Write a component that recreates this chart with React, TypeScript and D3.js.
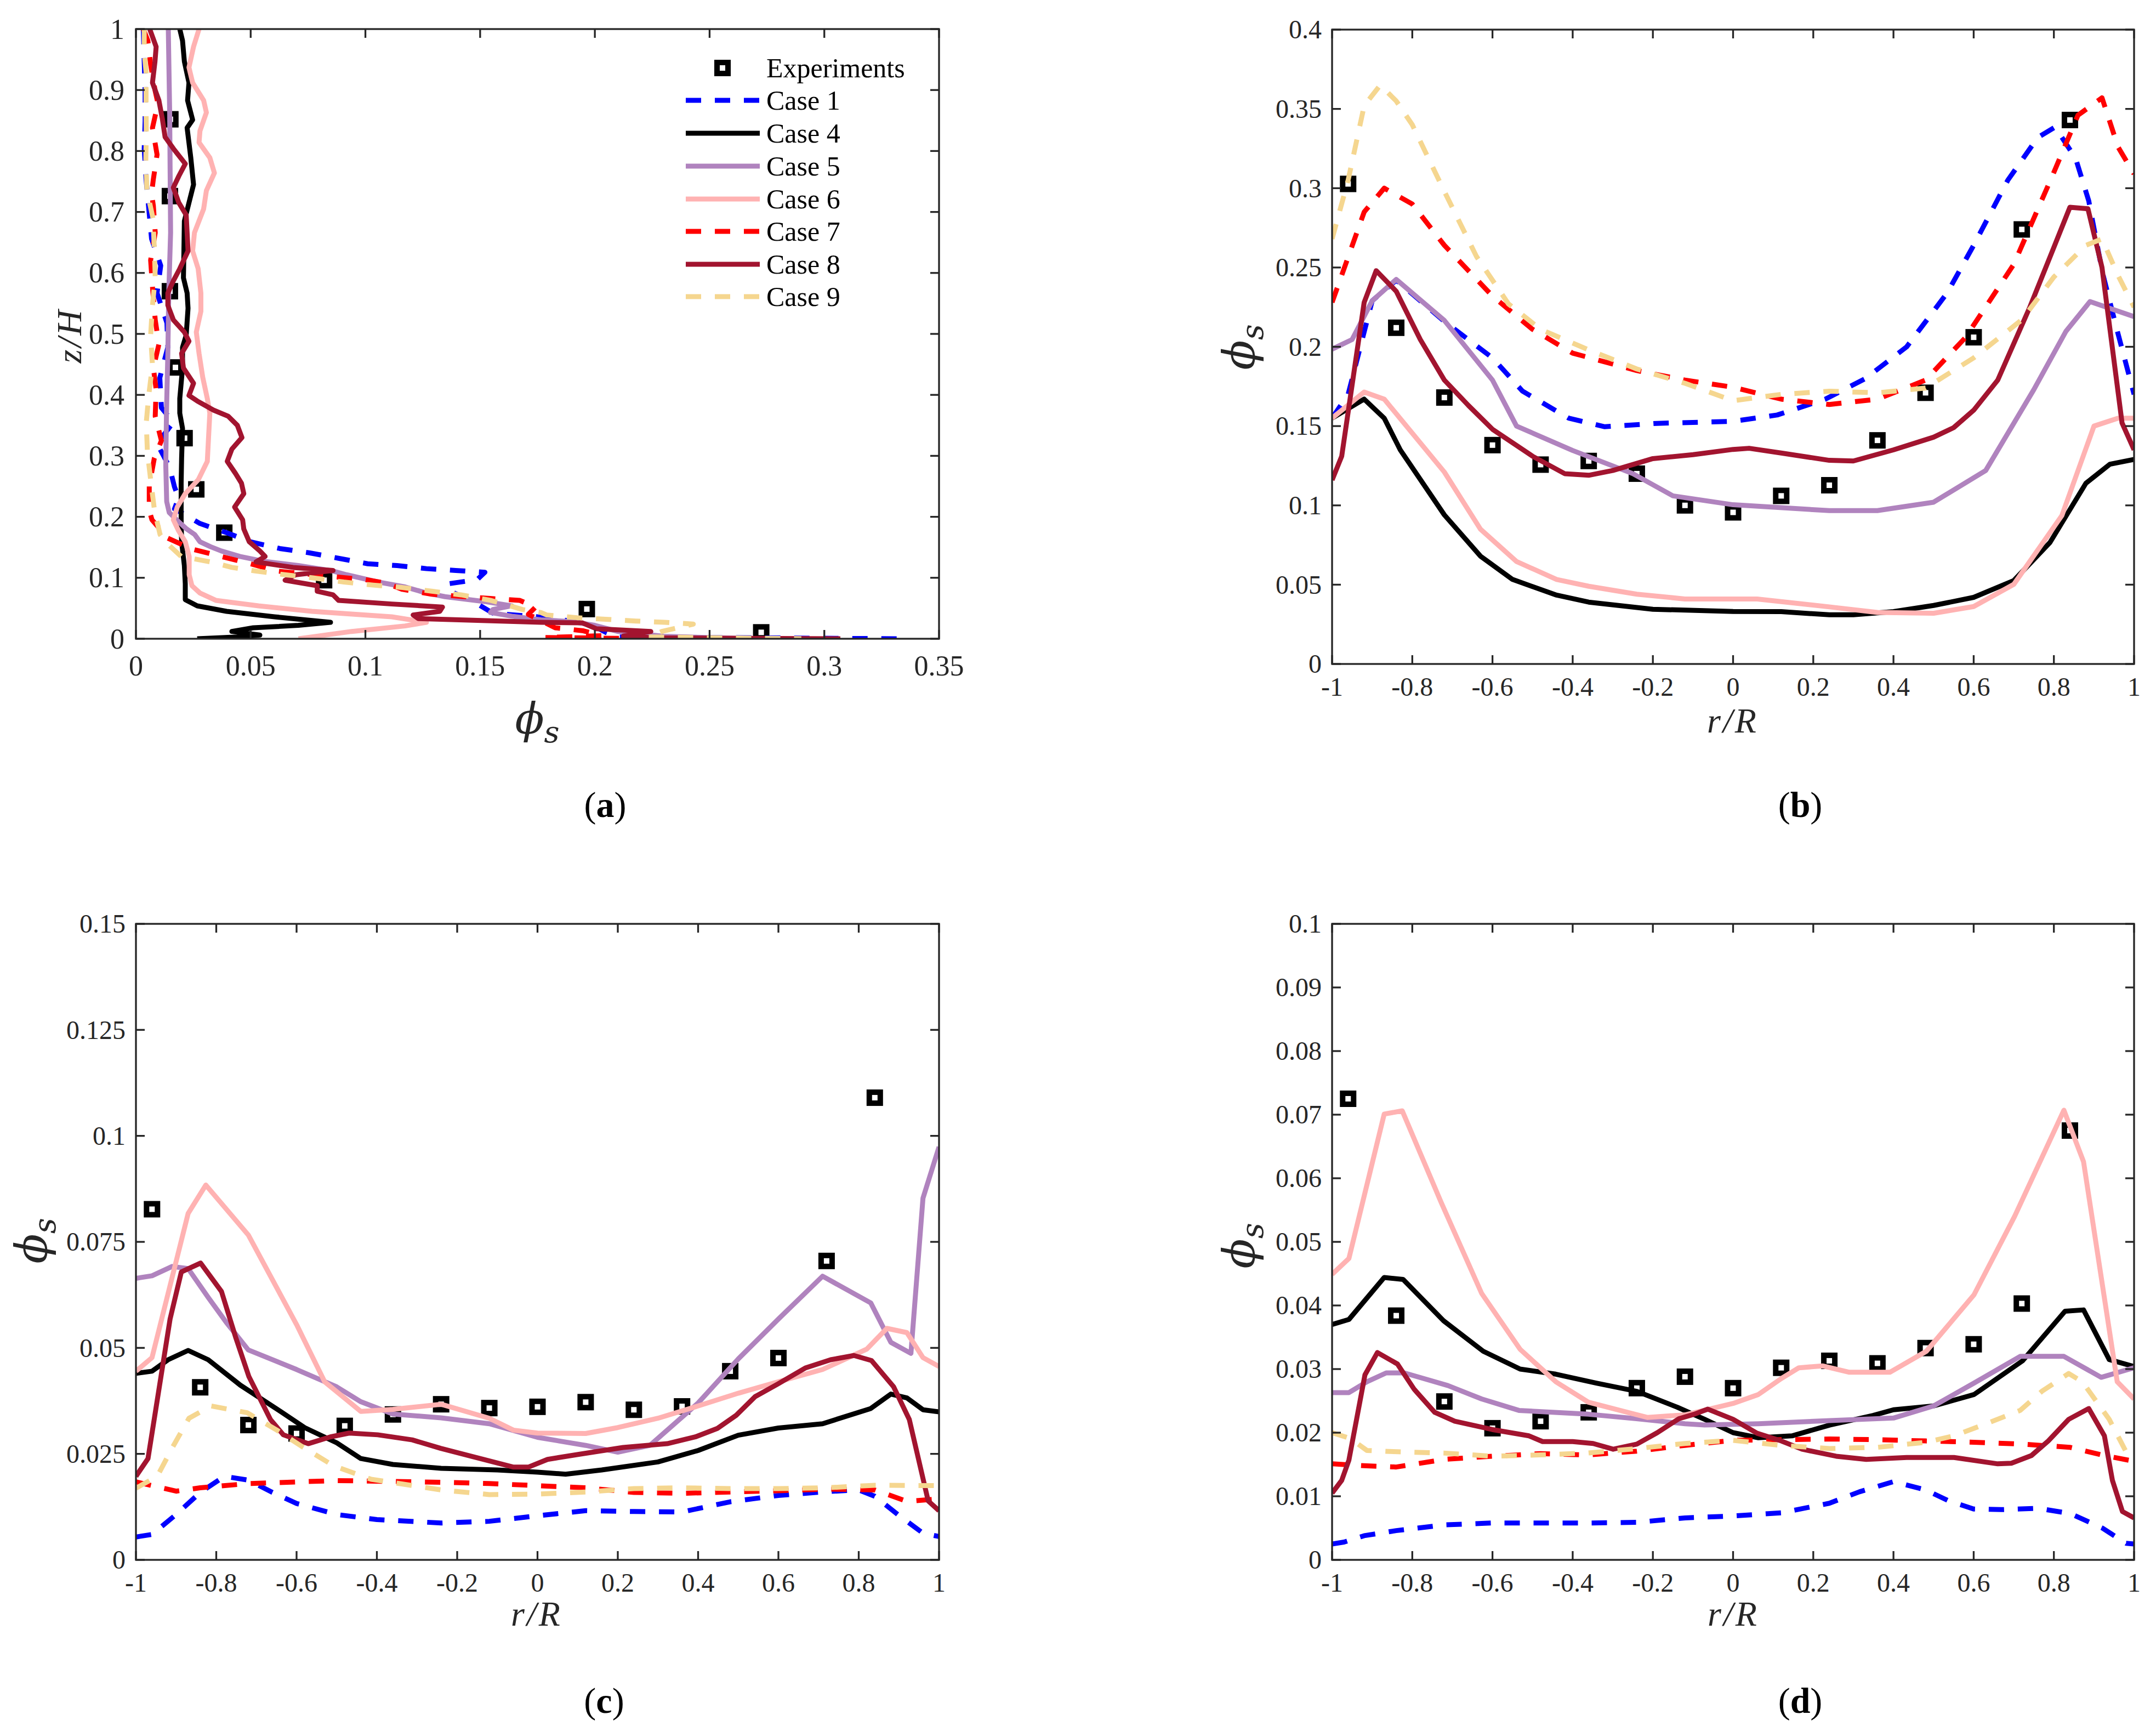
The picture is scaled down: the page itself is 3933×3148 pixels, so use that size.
import React from 'react';
import * as d3 from 'd3';

// ---------------- Panel (a): vertical profiles (phi_s vs z/H) ----------------
const aExpPhi = [0.015, 0.0148, 0.0148, 0.0172, 0.0212, 0.0263, 0.0385, 0.082, 0.1965, 0.2725];
const aExpZ = [0.852, 0.726, 0.57, 0.445, 0.329, 0.245, 0.174, 0.096, 0.0487, 0.0105];

const aCase1Z = [1, 0.947, 0.898, 0.849, 0.804, 0.754, 0.705, 0.656, 0.612, 0.567, 0.518, 0.478, 0.428, 0.379, 0.355, 0.32, 0.281, 0.249, 0.231, 0.213, 0.207, 0.189, 0.174, 0.159, 0.148, 0.141, 0.132, 0.123, 0.12, 0.115, 0.112, 0.109, 0.097, 0.09, 0.078, 0.06, 0.042, 0.036, 0.028, 0.02, 0.01, 0.003, 0.0];
const aCase1Phi = [0.0032, 0.0036, 0.004, 0.004, 0.0036, 0.0044, 0.0056, 0.0068, 0.0108, 0.0092, 0.0135, 0.0139, 0.0104, 0.0111, 0.0163, 0.0092, 0.0147, 0.0168, 0.0186, 0.0168, 0.0197, 0.0279, 0.0395, 0.0499, 0.0627, 0.0755, 0.0883, 0.101, 0.1138, 0.1266, 0.1394, 0.1521, 0.1487, 0.1359, 0.137, 0.1475, 0.1556, 0.175, 0.192, 0.2, 0.205, 0.21, 0.335];

const aCase4Z = [1, 0.981, 0.947, 0.912, 0.883, 0.851, 0.838, 0.789, 0.745, 0.715, 0.685, 0.636, 0.592, 0.567, 0.542, 0.498, 0.478, 0.444, 0.394, 0.37, 0.345, 0.296, 0.255, 0.225, 0.195, 0.159, 0.12, 0.09, 0.064, 0.054, 0.045, 0.036, 0.027, 0.022, 0.018, 0.012, 0.006, 0.003, 0];
const aCase4Phi = [0.0191, 0.0203, 0.0211, 0.0231, 0.0225, 0.0247, 0.0223, 0.0239, 0.0251, 0.0231, 0.0211, 0.0209, 0.0207, 0.0223, 0.0227, 0.0219, 0.0203, 0.0203, 0.0191, 0.0191, 0.0203, 0.0199, 0.0197, 0.0197, 0.0197, 0.0199, 0.0211, 0.0215, 0.0215, 0.0267, 0.0395, 0.0604, 0.0848, 0.0708, 0.0511, 0.0418, 0.054, 0.0441, 0.0267];

const aCase5Z = [1, 0.863, 0.764, 0.666, 0.567, 0.468, 0.37, 0.285, 0.225, 0.207, 0.192, 0.18, 0.171, 0.159, 0.151, 0.144, 0.135, 0.127, 0.12, 0.111, 0.105, 0.093, 0.085, 0.075, 0.069, 0.061, 0.054, 0.048, 0.043, 0.037, 0.031, 0.028, 0.022, 0.012, 0.004, 0];
const aCase5Phi = [0.0141, 0.0147, 0.0149, 0.0151, 0.0143, 0.0139, 0.0133, 0.013, 0.0134, 0.0145, 0.0186, 0.0221, 0.0256, 0.0279, 0.0325, 0.0372, 0.0453, 0.0557, 0.0708, 0.0859, 0.0918, 0.1057, 0.1173, 0.1266, 0.1347, 0.1521, 0.1638, 0.1556, 0.1545, 0.1638, 0.1765, 0.19, 0.2, 0.21, 0.23, 0.27];

const aCase6Z = [1, 0.971, 0.937, 0.912, 0.883, 0.863, 0.833, 0.814, 0.789, 0.764, 0.735, 0.705, 0.666, 0.636, 0.607, 0.567, 0.537, 0.503, 0.468, 0.429, 0.394, 0.37, 0.32, 0.291, 0.261, 0.238, 0.216, 0.195, 0.177, 0.159, 0.135, 0.105, 0.087, 0.075, 0.063, 0.054, 0.045, 0.036, 0.027, 0.021, 0.012, 0.003, 0];
const aCase6Phi = [0.0275, 0.0251, 0.0231, 0.0247, 0.0295, 0.0307, 0.0279, 0.0275, 0.0322, 0.0342, 0.0307, 0.0295, 0.0255, 0.0247, 0.0271, 0.0283, 0.0283, 0.0263, 0.0275, 0.0291, 0.0311, 0.0322, 0.0315, 0.0311, 0.0272, 0.0215, 0.018, 0.0163, 0.0186, 0.0215, 0.0232, 0.0232, 0.0244, 0.0279, 0.0348, 0.0534, 0.0767, 0.1115, 0.1266, 0.1173, 0.094, 0.0767, 0.0708];

const aCase7Z = [1, 0.981, 0.942, 0.898, 0.878, 0.838, 0.794, 0.754, 0.73, 0.71, 0.666, 0.621, 0.577, 0.523, 0.483, 0.444, 0.409, 0.365, 0.325, 0.296, 0.251, 0.21, 0.195, 0.165, 0.147, 0.135, 0.123, 0.111, 0.102, 0.097, 0.091, 0.081, 0.073, 0.066, 0.063, 0.052, 0.04, 0.018, 0.013, 0.005, 0.002, 0];
const aCase7Phi = [0.0032, 0.0052, 0.0064, 0.0084, 0.0096, 0.0072, 0.0092, 0.0076, 0.0068, 0.0076, 0.0084, 0.0064, 0.0072, 0.0084, 0.01, 0.0076, 0.0088, 0.0084, 0.0111, 0.008, 0.0058, 0.0058, 0.007, 0.0139, 0.0244, 0.0372, 0.0499, 0.0616, 0.0859, 0.0999, 0.1092, 0.1161, 0.1289, 0.1545, 0.1672, 0.1742, 0.171, 0.1827, 0.195, 0.203, 0.178, 0.23];

const aCase8Z = [1, 0.971, 0.947, 0.912, 0.883, 0.853, 0.823, 0.804, 0.779, 0.759, 0.74, 0.715, 0.695, 0.666, 0.636, 0.607, 0.587, 0.567, 0.547, 0.523, 0.503, 0.488, 0.468, 0.444, 0.419, 0.399, 0.39, 0.375, 0.365, 0.35, 0.33, 0.311, 0.291, 0.271, 0.255, 0.238, 0.216, 0.195, 0.18, 0.159, 0.144, 0.135, 0.126, 0.117, 0.112, 0.105, 0.096, 0.087, 0.078, 0.072, 0.063, 0.057, 0.052, 0.045, 0.039, 0.033, 0.027, 0.026, 0.0165, 0.012, 0.0045, 0.0015, 0];
const aCase8Phi = [0.006, 0.0088, 0.0083, 0.0072, 0.01, 0.0115, 0.0127, 0.0163, 0.0215, 0.0187, 0.0163, 0.0187, 0.0219, 0.0223, 0.0227, 0.0191, 0.0163, 0.0139, 0.0139, 0.0163, 0.0211, 0.0231, 0.0199, 0.0207, 0.0251, 0.0231, 0.0267, 0.0338, 0.0402, 0.0442, 0.0462, 0.0418, 0.0398, 0.0434, 0.046, 0.047, 0.043, 0.0465, 0.047, 0.0494, 0.054, 0.0563, 0.0523, 0.0685, 0.0859, 0.0697, 0.065, 0.079, 0.079, 0.0859, 0.0883, 0.1115, 0.1336, 0.1324, 0.1208, 0.1231, 0.1765, 0.1946, 0.2006, 0.2244, 0.2125, 0.2256, 0.307];

const aCase9Z = [1, 0.962, 0.93, 0.88, 0.83, 0.784, 0.735, 0.69, 0.641, 0.592, 0.547, 0.498, 0.449, 0.4, 0.355, 0.306, 0.261, 0.21, 0.171, 0.159, 0.135, 0.126, 0.117, 0.111, 0.105, 0.1, 0.093, 0.088, 0.084, 0.078, 0.072, 0.063, 0.057, 0.048, 0.043, 0.039, 0.0345, 0.032, 0.029, 0.027, 0.024, 0.012, 0.003, 0];
const aCase9Phi = [0.0036, 0.0036, 0.0044, 0.0044, 0.0045, 0.0043, 0.0048, 0.0074, 0.008, 0.0084, 0.0072, 0.0064, 0.0072, 0.0056, 0.0045, 0.005, 0.0064, 0.0081, 0.0105, 0.0128, 0.0197, 0.0325, 0.0418, 0.0523, 0.065, 0.0767, 0.0906, 0.1034, 0.1161, 0.1289, 0.1417, 0.1545, 0.1603, 0.1684, 0.1765, 0.179, 0.1923, 0.2048, 0.2179, 0.2304, 0.2429, 0.2292, 0.2232, 0.29];

// ---------------- Panels (b)-(d): radial profiles ----------------
const rExp = [-0.96, -0.84, -0.72, -0.6, -0.48, -0.36, -0.24, -0.12, 0, 0.12, 0.24, 0.36, 0.48, 0.6, 0.72, 0.84];
const bExp = [0.3027, 0.212, 0.168, 0.138, 0.1257, 0.128, 0.12, 0.1, 0.0956, 0.106, 0.1127, 0.141, 0.171, 0.206, 0.274, 0.343];
const cExp = [0.0827, 0.0407, 0.0318, 0.0298, 0.0316, 0.0343, 0.0367, 0.0358, 0.0361, 0.0372, 0.0354, 0.0362, 0.0445, 0.0476, 0.0705, 0.109];
const dExp = [0.0725, 0.0384, 0.0249, 0.0207, 0.0218, 0.0232, 0.027, 0.0288, 0.027, 0.0302, 0.0313, 0.0309, 0.0333, 0.0339, 0.0403, 0.0675];

// (b)
const bCase1R = [-1, -0.96, -0.9, -0.84, -0.72, -0.6, -0.525, -0.41, -0.32, -0.19, 0, 0.11, 0.23, 0.33, 0.433, 0.534, 0.6, 0.685, 0.76, 0.803, 0.854, 0.887, 0.921, 0.955, 1];
const bCase1Phi = [0.155, 0.17, 0.229, 0.242, 0.216, 0.193, 0.172, 0.155, 0.1496, 0.1517, 0.153, 0.157, 0.167, 0.18, 0.2, 0.234, 0.264, 0.305, 0.332, 0.3385, 0.319, 0.292, 0.247, 0.213, 0.17];
const bCase4R = [-1, -0.92, -0.87, -0.83, -0.72, -0.63, -0.55, -0.44, -0.36, -0.2, 0, 0.12, 0.24, 0.3, 0.4, 0.5, 0.6, 0.7, 0.79, 0.88, 0.94, 1];
const bCase4Phi = [0.155, 0.167, 0.155, 0.135, 0.094, 0.068, 0.0533, 0.0434, 0.039, 0.0345, 0.0331, 0.033, 0.031, 0.031, 0.033, 0.0369, 0.042, 0.0526, 0.0765, 0.114, 0.126, 0.129];
const bCase5R = [-1, -0.95, -0.9, -0.84, -0.72, -0.6, -0.54, -0.4, -0.25, -0.15, 0, 0.24, 0.36, 0.5, 0.63, 0.75, 0.83, 0.89, 1];
const bCase5Phi = [0.1985, 0.2046, 0.229, 0.2425, 0.2166, 0.179, 0.15, 0.1346, 0.12, 0.106, 0.1004, 0.0967, 0.0967, 0.102, 0.122, 0.173, 0.2097, 0.2285, 0.219];
const bCase6R = [-1, -0.92, -0.87, -0.72, -0.63, -0.54, -0.44, -0.36, -0.24, -0.12, 0, 0.06, 0.24, 0.36, 0.5, 0.6, 0.7, 0.82, 0.9, 0.96, 1];
const bCase6Phi = [0.155, 0.1715, 0.167, 0.121, 0.085, 0.0646, 0.0533, 0.049, 0.044, 0.041, 0.041, 0.041, 0.036, 0.0325, 0.032, 0.0362, 0.0502, 0.0936, 0.15, 0.155, 0.155];
const bCase7R = [-1, -0.92, -0.87, -0.8, -0.72, -0.6, -0.5, -0.4, -0.24, -0.12, 0, 0.12, 0.24, 0.36, 0.48, 0.58, 0.7, 0.8, 0.86, 0.92, 0.96, 1];
const bCase7Phi = [0.228, 0.285, 0.3, 0.29, 0.264, 0.232, 0.211, 0.196, 0.185, 0.179, 0.1745, 0.167, 0.1636, 0.167, 0.179, 0.206, 0.252, 0.31, 0.346, 0.357, 0.326, 0.309];
const bCase8R = [-1, -0.976, -0.92, -0.89, -0.84, -0.78, -0.72, -0.66, -0.6, -0.5, -0.42, -0.36, -0.3, -0.2, -0.1, 0, 0.04, 0.12, 0.24, 0.3, 0.4, 0.5, 0.55, 0.6, 0.66, 0.74, 0.8, 0.84, 0.885, 0.92, 0.97, 1];
const bCase8Phi = [0.116, 0.131, 0.228, 0.248, 0.235, 0.2046, 0.179, 0.163, 0.148, 0.131, 0.12, 0.119, 0.122, 0.1295, 0.132, 0.1353, 0.136, 0.133, 0.1284, 0.128, 0.135, 0.143, 0.149, 0.16, 0.179, 0.225, 0.2627, 0.288, 0.287, 0.25, 0.152, 0.135];
const bCase9R = [-1, -0.96, -0.92, -0.88, -0.84, -0.8, -0.72, -0.64, -0.56, -0.48, -0.36, -0.24, -0.12, 0, 0.12, 0.24, 0.36, 0.48, 0.6, 0.72, 0.8, 0.88, 0.92, 0.96, 1];
const bCase9Phi = [0.268, 0.305, 0.352, 0.365, 0.355, 0.34, 0.298, 0.257, 0.227, 0.211, 0.198, 0.186, 0.177, 0.166, 0.17, 0.172, 0.171, 0.174, 0.193, 0.217, 0.244, 0.264, 0.268, 0.245, 0.225];

// (c)
const cCase1R = [-1, -0.96, -0.9, -0.84, -0.78, -0.72, -0.66, -0.6, -0.5, -0.4, -0.24, -0.12, 0, 0.12, 0.24, 0.36, 0.48, 0.6, 0.72, 0.8, 0.84, 0.9, 0.96, 1];
const cCase1Phi = [0.0054, 0.006, 0.0107, 0.0159, 0.0197, 0.0188, 0.0159, 0.0133, 0.0107, 0.0095, 0.0087, 0.0091, 0.0104, 0.0116, 0.0114, 0.0113, 0.0137, 0.0152, 0.0161, 0.0165, 0.015, 0.0105, 0.0063, 0.0055];
const cCase4R = [-1, -0.96, -0.92, -0.87, -0.82, -0.74, -0.64, -0.58, -0.5, -0.44, -0.36, -0.24, -0.1, 0, 0.07, 0.16, 0.3, 0.4, 0.5, 0.6, 0.71, 0.83, 0.88, 0.92, 0.96, 1];
const cCase4Phi = [0.044, 0.0445, 0.0472, 0.0494, 0.0472, 0.0412, 0.035, 0.0312, 0.0276, 0.0239, 0.0225, 0.0216, 0.0212, 0.0207, 0.0202, 0.0212, 0.0231, 0.0258, 0.0294, 0.0311, 0.0321, 0.0357, 0.0391, 0.0382, 0.0354, 0.0349];
const cCase5R = [-1, -0.96, -0.91, -0.87, -0.82, -0.775, -0.72, -0.6, -0.5, -0.44, -0.36, -0.24, -0.12, 0, 0.12, 0.2, 0.28, 0.4, 0.5, 0.6, 0.71, 0.83, 0.88, 0.93, 0.96, 1];
const cCase5Phi = [0.0664, 0.067, 0.0692, 0.0687, 0.0619, 0.056, 0.0495, 0.0449, 0.0408, 0.0373, 0.0344, 0.0335, 0.0321, 0.0289, 0.027, 0.0254, 0.027, 0.037, 0.0474, 0.0568, 0.0669, 0.0606, 0.0513, 0.0487, 0.0853, 0.0974];
const cCase6R = [-1, -0.96, -0.87, -0.826, -0.72, -0.6, -0.53, -0.44, -0.36, -0.24, -0.12, -0.06, 0, 0.12, 0.2, 0.3, 0.4, 0.5, 0.6, 0.71, 0.82, 0.87, 0.92, 0.96, 1];
const cCase6Phi = [0.0445, 0.0477, 0.0817, 0.0884, 0.0766, 0.0555, 0.042, 0.035, 0.0355, 0.0367, 0.0334, 0.0306, 0.0299, 0.0298, 0.0312, 0.0334, 0.0363, 0.0393, 0.042, 0.0449, 0.0497, 0.0546, 0.0536, 0.0477, 0.0456];
const cCase7R = [-1, -0.9, -0.84, -0.72, -0.5, -0.36, -0.24, -0.12, 0, 0.12, 0.24, 0.36, 0.48, 0.6, 0.72, 0.84, 0.92, 1];
const cCase7Phi = [0.0184, 0.0162, 0.017, 0.018, 0.0187, 0.0185, 0.0183, 0.018, 0.0175, 0.017, 0.0159, 0.0157, 0.016, 0.0163, 0.0167, 0.0165, 0.0138, 0.0144];
const cCase8R = [-1, -0.97, -0.915, -0.887, -0.839, -0.787, -0.751, -0.719, -0.665, -0.633, -0.571, -0.516, -0.469, -0.398, -0.312, -0.241, -0.163, -0.061, -0.022, 0.025, 0.103, 0.213, 0.323, 0.393, 0.448, 0.495, 0.542, 0.597, 0.668, 0.73, 0.788, 0.832, 0.887, 0.926, 0.973, 1];
const cCase8Phi = [0.0197, 0.0239, 0.0568, 0.0679, 0.07, 0.0633, 0.0523, 0.0433, 0.0331, 0.0295, 0.0274, 0.029, 0.0299, 0.0295, 0.0283, 0.0263, 0.0244, 0.0219, 0.0219, 0.0237, 0.0249, 0.0265, 0.0274, 0.029, 0.031, 0.0341, 0.0385, 0.0414, 0.0453, 0.0472, 0.0482, 0.047, 0.0408, 0.0331, 0.0139, 0.0116];
const cCase9R = [-1, -0.947, -0.908, -0.868, -0.813, -0.723, -0.649, -0.586, -0.508, -0.414, -0.24, -0.12, 0, 0.12, 0.24, 0.36, 0.48, 0.6, 0.72, 0.84, 1];
const cCase9Phi = [0.0169, 0.0197, 0.0267, 0.0334, 0.0363, 0.0347, 0.0306, 0.0267, 0.0222, 0.019, 0.0165, 0.0154, 0.0155, 0.016, 0.0168, 0.017, 0.0168, 0.0168, 0.017, 0.0176, 0.0175];

// (d)
const dCase1R = [-1, -0.97, -0.92, -0.84, -0.72, -0.6, -0.36, -0.24, -0.12, 0, 0.12, 0.24, 0.315, 0.4, 0.48, 0.537, 0.6, 0.669, 0.761, 0.84, 0.921, 0.98, 1];
const dCase1Phi = [0.0025, 0.0028, 0.0038, 0.0046, 0.0055, 0.0058, 0.0058, 0.0059, 0.0066, 0.0069, 0.0074, 0.0089, 0.0107, 0.0123, 0.011, 0.0093, 0.008, 0.0079, 0.0081, 0.0073, 0.005, 0.0026, 0.0025];
const dCase4R = [-1, -0.958, -0.87, -0.823, -0.722, -0.623, -0.531, -0.442, -0.341, -0.24, -0.139, -0.071, 0, 0.063, 0.147, 0.241, 0.349, 0.4, 0.5, 0.601, 0.722, 0.828, 0.874, 0.938, 1];
const dCase4Phi = [0.037, 0.0378, 0.0444, 0.0441, 0.0376, 0.0328, 0.03, 0.0292, 0.0278, 0.0265, 0.024, 0.0221, 0.02, 0.0192, 0.0195, 0.0212, 0.0227, 0.0236, 0.0242, 0.026, 0.0313, 0.0391, 0.0393, 0.0315, 0.0304];
const dCase5R = [-1, -0.958, -0.913, -0.865, -0.82, -0.711, -0.627, -0.534, -0.361, -0.241, -0.12, -0.071, 0.063, 0.241, 0.4, 0.5, 0.601, 0.716, 0.825, 0.918, 1];
const dCase5Phi = [0.0263, 0.0263, 0.028, 0.0294, 0.0294, 0.0274, 0.0253, 0.0235, 0.0229, 0.0222, 0.0214, 0.0212, 0.0214, 0.0219, 0.0223, 0.0242, 0.0278, 0.032, 0.032, 0.0287, 0.0302];
const dCase6R = [-1, -0.958, -0.87, -0.825, -0.728, -0.627, -0.531, -0.442, -0.361, -0.257, -0.214, -0.12, 0, 0.063, 0.12, 0.164, 0.223, 0.29, 0.391, 0.482, 0.601, 0.702, 0.825, 0.874, 0.958, 1];
const dCase6Phi = [0.0449, 0.0474, 0.0701, 0.0706, 0.0562, 0.0419, 0.0331, 0.028, 0.0248, 0.0231, 0.0224, 0.0228, 0.0246, 0.026, 0.0285, 0.0302, 0.0305, 0.0295, 0.0295, 0.0328, 0.0417, 0.054, 0.0707, 0.0626, 0.028, 0.0253];
const dCase7R = [-1, -0.92, -0.84, -0.72, -0.6, -0.48, -0.36, -0.24, -0.12, 0, 0.12, 0.24, 0.36, 0.48, 0.6, 0.72, 0.84, 0.92, 1];
const dCase7Phi = [0.0151, 0.0148, 0.0146, 0.0158, 0.0163, 0.0167, 0.0165, 0.0171, 0.018, 0.0188, 0.0189, 0.019, 0.0189, 0.0187, 0.0185, 0.0182, 0.0177, 0.0165, 0.0155];
const dCase8R = [-1, -0.976, -0.958, -0.918, -0.887, -0.837, -0.795, -0.744, -0.694, -0.601, -0.509, -0.475, -0.4, -0.349, -0.299, -0.24, -0.189, -0.135, -0.097, -0.063, 0, 0.06, 0.12, 0.172, 0.257, 0.332, 0.433, 0.551, 0.66, 0.694, 0.744, 0.786, 0.837, 0.887, 0.926, 0.946, 0.971, 1];
const dCase8Phi = [0.0105, 0.0125, 0.0157, 0.0291, 0.0326, 0.0308, 0.0268, 0.0232, 0.0218, 0.0205, 0.0195, 0.0186, 0.0186, 0.0183, 0.0174, 0.0182, 0.02, 0.0222, 0.0229, 0.0237, 0.0221, 0.0199, 0.0187, 0.0174, 0.0163, 0.0158, 0.0161, 0.0161, 0.0151, 0.0152, 0.0164, 0.0187, 0.0221, 0.0238, 0.0195, 0.0125, 0.0076, 0.0066];
const dCase9R = [-1, -0.955, -0.913, -0.837, -0.722, -0.601, -0.482, -0.361, -0.24, -0.12, 0, 0.12, 0.241, 0.361, 0.482, 0.551, 0.635, 0.716, 0.77, 0.837, 0.871, 0.938, 0.98, 1];
const dCase9Phi = [0.02, 0.0191, 0.0172, 0.017, 0.0168, 0.0163, 0.0165, 0.0168, 0.0175, 0.0183, 0.0188, 0.018, 0.0175, 0.0177, 0.0185, 0.0195, 0.0215, 0.0235, 0.0265, 0.0293, 0.028, 0.0221, 0.017, 0.0159];

// tick values
const aXTicks = [0, 0.05, 0.1, 0.15, 0.2, 0.25, 0.3, 0.35];
const aYTicks = [0, 0.1, 0.2, 0.3, 0.4, 0.5, 0.6, 0.7, 0.8, 0.9, 1];
const rTicks = [-1, -0.8, -0.6, -0.4, -0.2, 0, 0.2, 0.4, 0.6, 0.8, 1];
const bYTicks = [0, 0.05, 0.1, 0.15, 0.2, 0.25, 0.3, 0.35, 0.4];
const cYTicks = [0, 0.025, 0.05, 0.075, 0.1, 0.125, 0.15];
const dYTicks = [0, 0.01, 0.02, 0.03, 0.04, 0.05, 0.06, 0.07, 0.08, 0.09, 0.1];

const caseNames = ['Case 1', 'Case 4', 'Case 5', 'Case 6', 'Case 7', 'Case 8', 'Case 9'];

// ---------------- styles ----------------
const STYLES = [
  { color: '#0000FF', dashed: true },
  { color: '#000000', dashed: false },
  { color: '#B083BE', dashed: false },
  { color: '#FFB2B2', dashed: false },
  { color: '#FF0000', dashed: true },
  { color: '#A2142F', dashed: false },
  { color: '#F5D68F', dashed: true },
];
const LW = 9;
const DASH = '28 25';
const AX = '#262626';
const SERIF = '"Liberation Serif", "DejaVu Serif", serif';
const GREEK = '"DejaVu Serif", serif';

type Series = { xs: number[]; ys: number[] };

const fmt = (v: number) => String(+v.toFixed(4));

function Panel(props: {
  id: string;
  box: { l: number; r: number; t: number; b: number };
  xDom: [number, number];
  yDom: [number, number];
  xTicks: number[];
  yTicks: number[];
  fs: number;
  xLabOff: number;
  yLabGap: number;
  series: Series[];
  expX: number[];
  expY: number[];
}) {
  const { id, box, xDom, yDom, xTicks, yTicks, fs, xLabOff, yLabGap, series, expX, expY } = props;
  const x = d3.scaleLinear().domain(xDom).range([box.l, box.r]);
  const y = d3.scaleLinear().domain(yDom).range([box.b, box.t]);
  const TL = 16;
  return (
    <g>
      <defs>
        <clipPath id={`clip-${id}`}>
          <rect x={box.l} y={box.t} width={box.r - box.l} height={box.b - box.t} />
        </clipPath>
      </defs>
      <g clipPath={`url(#clip-${id})`}>
        {expX.map((v, i) => (
          <rect key={`e${i}`} x={x(v) - 10} y={y(expY[i]) - 10} width={20} height={20} fill="#fff" stroke="#000" strokeWidth={10} />
        ))}
        {series.map((s, k) => {
          const idx = d3.range(s.xs.length);
          const path = d3
            .line<number>()
            .x((i) => x(s.xs[i]))
            .y((i) => y(s.ys[i]))(idx) as string;
          const st = STYLES[k];
          return (
            <path
              key={`s${k}`}
              d={path}
              fill="none"
              stroke={st.color}
              strokeWidth={LW}
              strokeDasharray={st.dashed ? DASH : undefined}
              strokeLinejoin="round"
              strokeLinecap="butt"
            />
          );
        })}
      </g>
      <rect x={box.l} y={box.t} width={box.r - box.l} height={box.b - box.t} fill="none" stroke={AX} strokeWidth={3.3} />
      {xTicks.map((v, i) => (
        <g key={`xt${i}`}>
          <line x1={x(v)} x2={x(v)} y1={box.b} y2={box.b - TL} stroke={AX} strokeWidth={3.3} />
          <line x1={x(v)} x2={x(v)} y1={box.t} y2={box.t + TL} stroke={AX} strokeWidth={3.3} />
          <text x={x(v)} y={box.b + xLabOff} textAnchor="middle" fontFamily={SERIF} fontSize={fs} fill={AX}>
            {fmt(v)}
          </text>
        </g>
      ))}
      {yTicks.map((v, i) => (
        <g key={`yt${i}`}>
          <line x1={box.l} x2={box.l + TL} y1={y(v)} y2={y(v)} stroke={AX} strokeWidth={3.3} />
          <line x1={box.r} x2={box.r - TL} y1={y(v)} y2={y(v)} stroke={AX} strokeWidth={3.3} />
          <text x={box.l - yLabGap} y={y(v) + fs * 0.34} textAnchor="end" fontFamily={SERIF} fontSize={fs} fill={AX}>
            {fmt(v)}
          </text>
        </g>
      ))}
    </g>
  );
}

function PhiLabel({ x, y, fs, rotate }: { x: number; y: number; fs: number; rotate: boolean }) {
  return (
    <text
      x={x}
      y={y}
      transform={rotate ? `rotate(-90 ${x} ${y})` : undefined}
      textAnchor="middle"
      fontFamily={GREEK}
      fontStyle="italic"
      fontSize={fs}
      fill={AX}
    >
      <tspan>ϕ</tspan>
      <tspan fontSize={fs * 0.7} dy={fs * 0.2}>s</tspan>
    </text>
  );
}

function ItalicLabel({ x, y, fs, text, rotate }: { x: number; y: number; fs: number; text: string; rotate?: boolean }) {
  return (
    <text
      x={x}
      y={y}
      transform={rotate ? `rotate(-90 ${x} ${y})` : undefined}
      textAnchor="middle"
      fontFamily={SERIF}
      fontStyle="italic"
      fontSize={fs}
      letterSpacing={4}
      fill={AX}
    >
      {text}
    </text>
  );
}

function Tag({ x, y, letter }: { x: number; y: number; letter: string }) {
  return (
    <text x={x} y={y} textAnchor="middle" fontFamily={SERIF} fontSize={66} fill="#000">
      <tspan>(</tspan>
      <tspan fontWeight="bold">{letter}</tspan>
      <tspan>)</tspan>
    </text>
  );
}

export default function App() {
  const aSeries: Series[] = [
    { xs: aCase1Phi, ys: aCase1Z },
    { xs: aCase4Phi, ys: aCase4Z },
    { xs: aCase5Phi, ys: aCase5Z },
    { xs: aCase6Phi, ys: aCase6Z },
    { xs: aCase7Phi, ys: aCase7Z },
    { xs: aCase8Phi, ys: aCase8Z },
    { xs: aCase9Phi, ys: aCase9Z },
  ];
  const bSeries: Series[] = [
    { xs: bCase1R, ys: bCase1Phi },
    { xs: bCase4R, ys: bCase4Phi },
    { xs: bCase5R, ys: bCase5Phi },
    { xs: bCase6R, ys: bCase6Phi },
    { xs: bCase7R, ys: bCase7Phi },
    { xs: bCase8R, ys: bCase8Phi },
    { xs: bCase9R, ys: bCase9Phi },
  ];
  const cSeries: Series[] = [
    { xs: cCase1R, ys: cCase1Phi },
    { xs: cCase4R, ys: cCase4Phi },
    { xs: cCase5R, ys: cCase5Phi },
    { xs: cCase6R, ys: cCase6Phi },
    { xs: cCase7R, ys: cCase7Phi },
    { xs: cCase8R, ys: cCase8Phi },
    { xs: cCase9R, ys: cCase9Phi },
  ];
  const dSeries: Series[] = [
    { xs: dCase1R, ys: dCase1Phi },
    { xs: dCase4R, ys: dCase4Phi },
    { xs: dCase5R, ys: dCase5Phi },
    { xs: dCase6R, ys: dCase6Phi },
    { xs: dCase7R, ys: dCase7Phi },
    { xs: dCase8R, ys: dCase8Phi },
    { xs: dCase9R, ys: dCase9Phi },
  ];

  const legendRows = [124, 183, 243, 303, 363, 422, 482, 541];

  return (
    <svg
      width={3933}
      height={3148}
      viewBox="0 0 3933 3148"
      style={{ position: 'absolute', left: 0, top: 0, background: '#fff', display: 'block' }}
    >
      <rect x={0} y={0} width={3933} height={3148} fill="#fff" />
      {/* (a) */}
      <Panel
        id="a"
        box={{ l: 248, r: 1713, t: 53, b: 1165 }}
        xDom={[0, 0.35]}
        yDom={[0, 1]}
        xTicks={aXTicks}
        yTicks={aYTicks}
        fs={52}
        xLabOff={67}
        yLabGap={21}
        series={aSeries}
        expX={aExpPhi}
        expY={aExpZ}
      />
      <ItalicLabel x={148} y={612} fs={64} text="z/H" rotate />
      <PhiLabel x={980} y={1338} fs={78} rotate={false} />
      <g>
        <rect x={1318 - 10} y={legendRows[0] - 10} width={20} height={20} fill="#fff" stroke="#000" strokeWidth={10} />
        <text x={1398} y={legendRows[0] + 17} fontFamily={SERIF} fontSize={50} fill="#000">Experiments</text>
        {caseNames.map((n, i) => (
          <g key={n}>
            <line
              x1={1251}
              x2={1386}
              y1={legendRows[i + 1]}
              y2={legendRows[i + 1]}
              stroke={STYLES[i].color}
              strokeWidth={LW}
              strokeDasharray={STYLES[i].dashed ? DASH : undefined}
            />
            <text x={1398} y={legendRows[i + 1] + 17} fontFamily={SERIF} fontSize={50} fill="#000">{n}</text>
          </g>
        ))}
      </g>
      <Tag x={1104} y={1490} letter="a" />

      {/* (b) */}
      <Panel
        id="b"
        box={{ l: 2430, r: 3893, t: 54, b: 1211 }}
        xDom={[-1, 1]}
        yDom={[0, 0.4]}
        xTicks={rTicks}
        yTicks={bYTicks}
        fs={48}
        xLabOff={58}
        yLabGap={19}
        series={bSeries}
        expX={rExp}
        expY={bExp}
      />
      <PhiLabel x={2288} y={633} fs={80} rotate />
      <ItalicLabel x={3161} y={1336} fs={64} text="r/R" />
      <Tag x={3284} y={1490} letter="b" />

      {/* (c) */}
      <Panel
        id="c"
        box={{ l: 248, r: 1713, t: 1685, b: 2845 }}
        xDom={[-1, 1]}
        yDom={[0, 0.15]}
        xTicks={rTicks}
        yTicks={cYTicks}
        fs={48}
        xLabOff={58}
        yLabGap={19}
        series={cSeries}
        expX={rExp}
        expY={cExp}
      />
      <PhiLabel x={85} y={2263} fs={80} rotate />
      <ItalicLabel x={979} y={2965} fs={64} text="r/R" />
      <Tag x={1102} y={3124} letter="c" />

      {/* (d) */}
      <Panel
        id="d"
        box={{ l: 2430, r: 3893, t: 1685, b: 2845 }}
        xDom={[-1, 1]}
        yDom={[0, 0.1]}
        xTicks={rTicks}
        yTicks={dYTicks}
        fs={48}
        xLabOff={58}
        yLabGap={19}
        series={dSeries}
        expX={rExp}
        expY={dExp}
      />
      <PhiLabel x={2288} y={2272} fs={80} rotate />
      <ItalicLabel x={3162} y={2965} fs={64} text="r/R" />
      <Tag x={3284} y={3124} letter="d" />
    </svg>
  );
}
